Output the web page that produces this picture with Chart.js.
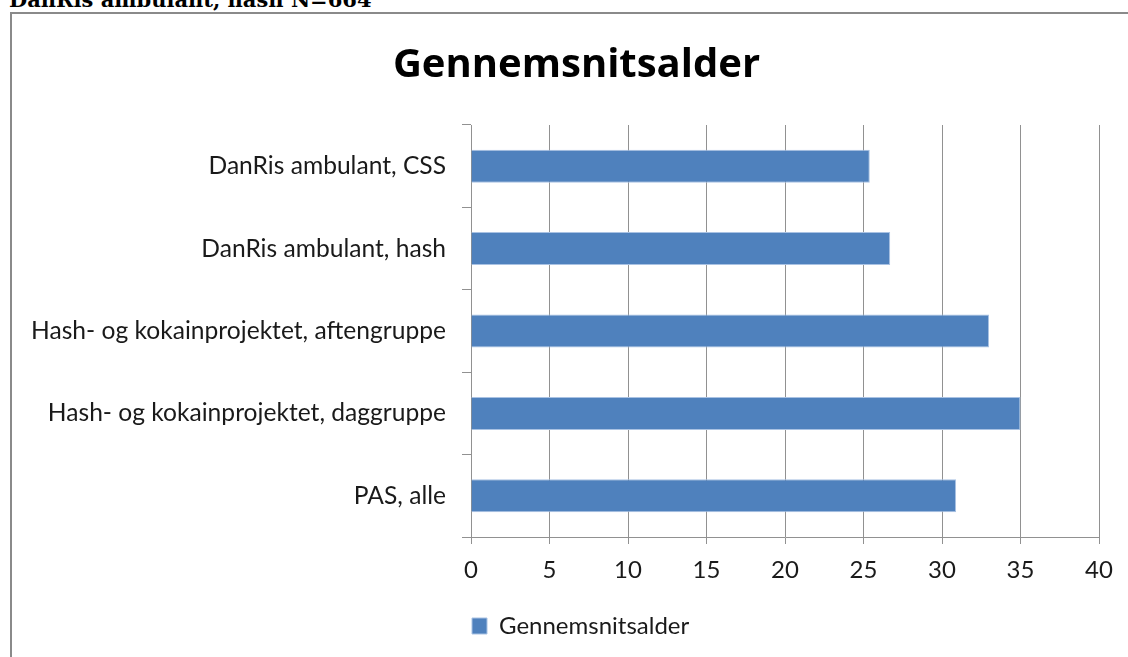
<!DOCTYPE html>
<html>
<head>
<meta charset="utf-8">
<script src="https://cdn.jsdelivr.net/npm/chart.js@4/dist/chart.umd.min.js"></script>
<style>
  html, body { margin: 0; padding: 0; background: #fff; width: 1128px; height: 657px; overflow: hidden; }
  #head { position: absolute; left: 9px; top: -11px; font: bold 21px "DejaVu Serif", serif; line-height: 21px; color: #000; white-space: nowrap; }
  #frame { position: absolute; left: 10px; top: 12px; width: 1200px; height: 800px; border-top: 2px solid #8a8a8a; border-left: 2px solid #8a8a8a; }
  #wrap { position: absolute; left: 0; top: 0; width: 1128px; height: 657px; }
</style>
</head>
<body>
<div id="head">DanRis ambulant, hash N=664</div>
<div id="frame"></div>
<div id="wrap"><canvas id="c" width="1128" height="657"></canvas></div>
<script>
const chartTitle = 'Gennemsnitsalder';
const seriesName = 'Gennemsnitsalder';
const categories = [
  'DanRis ambulant, CSS',
  'DanRis ambulant, hash',
  'Hash- og kokainprojektet, aftengruppe',
  'Hash- og kokainprojektet, daggruppe',
  'PAS, alle'
];
const values = [25.4, 26.7, 33.0, 35.0, 30.9];
const xMin = 0, xMax = 40, xStep = 5;

const FONT = 'Lato, "Open Sans", sans-serif';
const TITLE_FONT = '"Open Sans", Lato, sans-serif';
const GRID = '#919191';
const TEXT = '#1a1a1a';

// legend starts at the plot's left edge and the title is centred a bit right, as in the reference
const boxShift = {
  id: 'boxShift',
  afterLayout(chart) {
    if (chart.legend) chart.legend.left = chart.chartArea.left - 9;
    if (chart.titleBlock) chart.titleBlock.left = 54;
  }
};

new Chart(document.getElementById('c'), {
  type: 'bar',
  data: {
    labels: categories,
    datasets: [{
      label: seriesName,
      data: values,
      backgroundColor: '#4F81BD',
      borderColor: '#a9c2e3',
      borderWidth: 1,
      borderSkipped: 'start',
      categoryPercentage: 1,
      barPercentage: 0.4
    }]
  },
  plugins: [boxShift],
  options: {
    indexAxis: 'y',
    responsive: false,
    animation: false,
    devicePixelRatio: 1,
    layout: { padding: { left: 10, right: 29, top: 0, bottom: 9 } },
    plugins: {
      title: {
        display: true,
        text: chartTitle,
        color: '#000',
        font: { family: TITLE_FONT, size: 40, weight: 'bold', lineHeight: 1.2 },
        padding: { top: 42, bottom: 35 }
      },
      legend: {
        display: true,
        position: 'bottom',
        align: 'start',
        labels: {
          color: TEXT,
          font: { family: FONT, size: 24 },
          boxWidth: 15,
          boxHeight: 16,
          padding: 10
        }
      },
      tooltip: { enabled: false }
    },
    scales: {
      x: {
        type: 'linear',
        min: xMin, max: xMax,
        ticks: { stepSize: xStep, color: TEXT, font: { family: FONT, size: 24 }, padding: 12 },
        grid: { color: GRID, lineWidth: 1, tickLength: 7, drawTicks: true },
        border: { color: GRID, width: 1 },
        afterFit: (s) => { s.height = 67; }
      },
      y: {
        ticks: { color: TEXT, font: { family: FONT, size: 24.6 }, padding: 16, autoSkip: false },
        grid: { color: GRID, drawOnChartArea: false, tickLength: 9, offset: true },
        border: { color: GRID, width: 1 },
        afterFit: (s) => { s.width = 461; }
      }
    }
  }
});
</script>
</body>
</html>
